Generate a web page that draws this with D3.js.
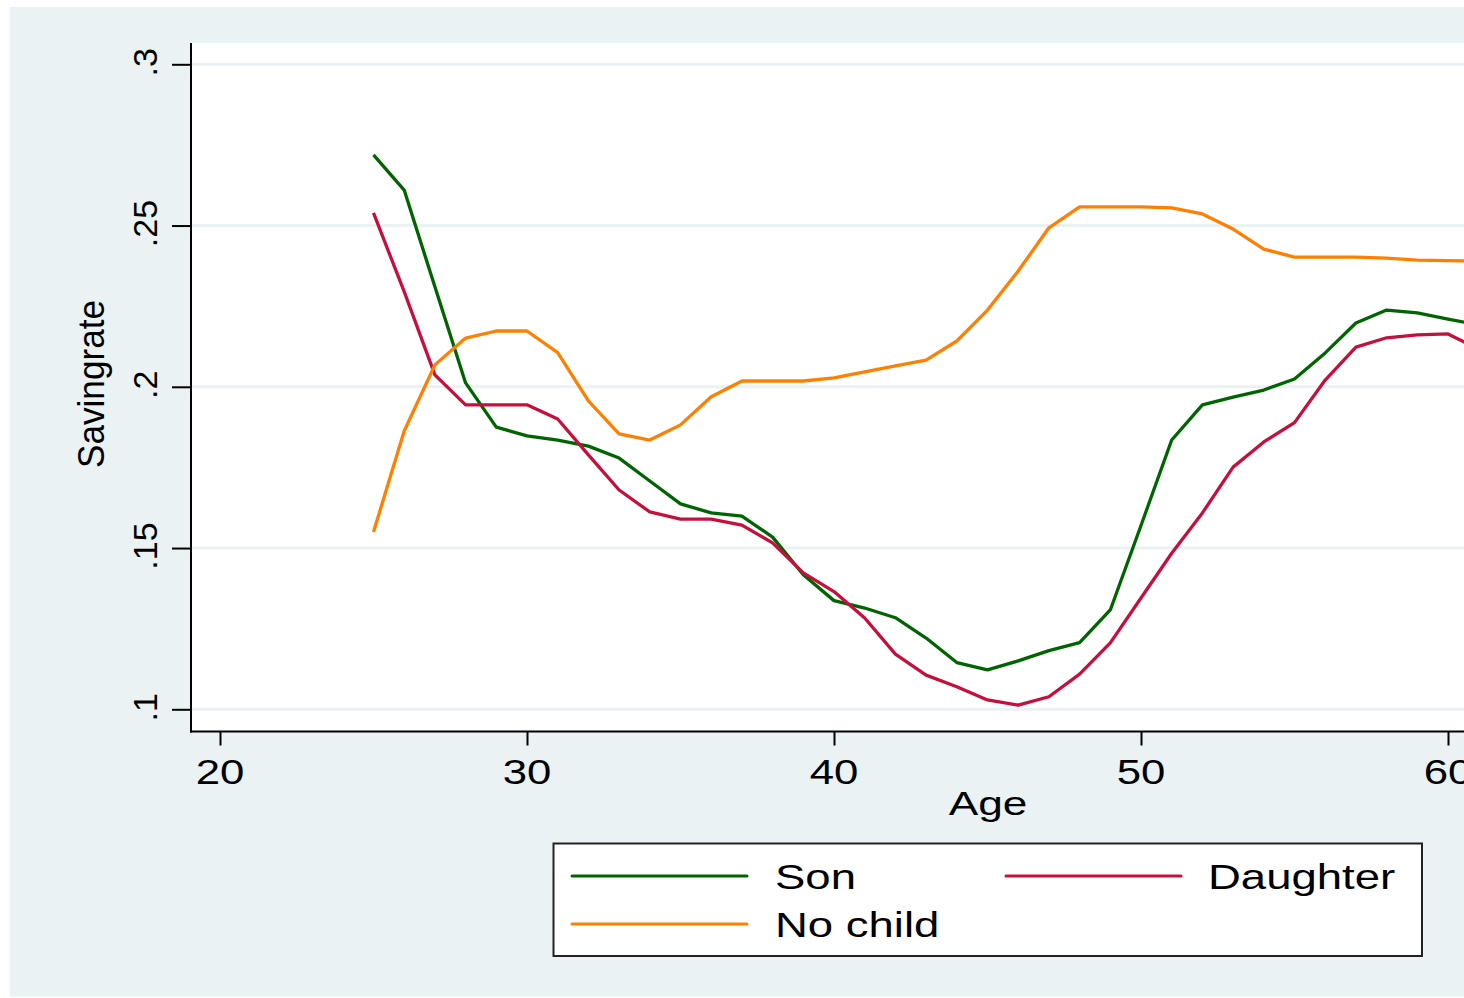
<!DOCTYPE html>
<html>
<head>
<meta charset="utf-8">
<script src="https://cdn.jsdelivr.net/npm/d3@7"></script>
<style>
  html, body { margin: 0; padding: 0; background: #ffffff; overflow: hidden; }
  svg { display: block; }
  text { font-family: "Liberation Sans", Arial, Helvetica, sans-serif; fill: #000; }
</style>
</head>
<body>
<div id="chart"></div>
<script>
// ---- data ----
const ages = [25,26,27,28,29,30,31,32,33,34,35,36,37,38,39,40,41,42,43,44,45,46,47,48,49,50,51,52,53,54,55,56,57,58,59,60,61];
const son = [0.2719,0.2610,0.2310,0.2012,0.1875,0.1848,0.1835,0.1816,0.1779,0.1708,0.1637,0.1609,0.1599,0.1534,0.1417,0.1337,0.1314,0.1284,0.1221,0.1145,0.1122,0.1150,0.1182,0.1207,0.1308,0.1570,0.1835,0.1944,0.1968,0.1990,0.2024,0.2105,0.2198,0.2238,0.2229,0.2210,0.2192];
const daughter = [0.2539,0.2295,0.2037,0.1944,0.1944,0.1944,0.1900,0.1789,0.1680,0.1612,0.1590,0.1590,0.1571,0.1516,0.1423,0.1365,0.1283,0.1171,0.1106,0.1070,0.1029,0.1013,0.1039,0.1109,0.1206,0.1345,0.1484,0.1609,0.1751,0.1829,0.1889,0.2021,0.2123,0.2152,0.2161,0.2164,0.2117];
const noChild = [0.1550,0.1863,0.2068,0.2151,0.2173,0.2173,0.2106,0.1956,0.1854,0.1835,0.1882,0.1969,0.2018,0.2018,0.2018,0.2028,0.2046,0.2065,0.2083,0.2142,0.2238,0.2359,0.2493,0.2558,0.2558,0.2558,0.2555,0.2536,0.2489,0.2427,0.2402,0.2402,0.2402,0.2399,0.2393,0.2391,0.2390];
const seriesNames = ["Son", "Daughter", "No child"];
const seriesColors = ["#006400", "#C5103D", "#FF8000"];
const xTicks = [20, 30, 40, 50, 60];
const yTicks = [0.1, 0.15, 0.2, 0.25, 0.3];
const yTickLabels = [".1", ".15", ".2", ".25", ".3"];
const xTitle = "Age";
const yTitle = "Savingrate";

// ---- layout ----
const W = 1464, H = 998;
const bgColor = "#EAF2F3";
const plot = { left: 191, top: 43, right: 1785, bottom: 731.5 };

const svg = d3.select("#chart").append("svg").attr("width", W).attr("height", H);

svg.append("rect").attr("x", 0).attr("y", 0).attr("width", W).attr("height", H).attr("fill", "#fff");
svg.append("rect").attr("x", 10).attr("y", 7).attr("width", W).attr("height", 989.5).attr("fill", bgColor);
svg.append("rect").attr("x", plot.left).attr("y", plot.top)
  .attr("width", plot.right - plot.left).attr("height", plot.bottom - plot.top).attr("fill", "#fff");

const x = d3.scaleLinear().domain([20, 60]).range([220, 1448]);
const y = d3.scaleLinear().domain([0.1, 0.3]).range([709.3, 64.3]);

// gridlines
svg.append("g").selectAll("line").data(yTicks).join("line")
  .attr("x1", plot.left + 1).attr("x2", plot.right)
  .attr("y1", d => y(d)).attr("y2", d => y(d))
  .attr("stroke", bgColor).attr("stroke-width", 3);

// lines
const seriesData = [son, daughter, noChild];
const line = d3.line().x((d, i) => x(ages[i])).y(d => y(d));
svg.append("clipPath").attr("id", "pclip").append("rect")
  .attr("x", plot.left).attr("y", plot.top).attr("width", plot.right - plot.left).attr("height", plot.bottom - plot.top);
const lg = svg.append("g").attr("clip-path", "url(#pclip)");
seriesData.forEach((s, k) => {
  lg.append("path").datum(s).attr("d", line)
    .attr("fill", "none").attr("stroke", seriesColors[k]).attr("stroke-width", 3.3)
    .attr("stroke-linejoin", "round");
});

// y axis
const yAxis = d3.axisLeft(y).tickValues(yTicks).tickSize(19).tickFormat("");
const yg = svg.append("g").attr("transform", `translate(${plot.left},0)`).call(yAxis);
yg.select(".domain").remove();
yg.selectAll(".tick line").attr("stroke", "#000").attr("stroke-width", 2);
svg.append("line").attr("x1", plot.left).attr("x2", plot.left).attr("y1", plot.top).attr("y2", plot.bottom + 1)
  .attr("stroke", "#000").attr("stroke-width", 2);
svg.append("g").selectAll("text").data(yTicks).join("text")
  .attr("transform", d => `translate(157,${y(d) - 2}) rotate(-90)`)
  .attr("text-anchor", "middle").attr("font-size", 34)
  .text((d, i) => yTickLabels[i]);

// x axis
const xAxis = d3.axisBottom(x).tickValues(xTicks).tickSize(14).tickFormat("");
const xg = svg.append("g").attr("transform", `translate(0,${plot.bottom})`).call(xAxis);
xg.select(".domain").remove();
xg.selectAll(".tick line").attr("stroke", "#000").attr("stroke-width", 2);
svg.append("line").attr("x1", plot.left - 1).attr("x2", plot.right).attr("y1", plot.bottom).attr("y2", plot.bottom)
  .attr("stroke", "#000").attr("stroke-width", 2);
svg.append("g").selectAll("text").data(xTicks).join("text")
  .attr("transform", d => `translate(${x(d)},784) scale(1.25,1)`)
  .attr("text-anchor", "middle").attr("font-size", 35)
  .text(d => d);

// axis titles
svg.append("text").attr("transform", "translate(988,815) scale(1.3,1)")
  .attr("text-anchor", "middle").attr("font-size", 34).text(xTitle);
svg.append("text").attr("transform", "translate(104,384) rotate(-90)")
  .attr("text-anchor", "middle").attr("font-size", 37)
  .attr("textLength", 168).attr("lengthAdjust", "spacingAndGlyphs").text(yTitle);

// legend
const leg = svg.append("g");
leg.append("rect").attr("x", 553.5).attr("y", 843.5).attr("width", 868.5).attr("height", 112.5)
  .attr("fill", "#fff").attr("stroke", "#222").attr("stroke-width", 2);
const legPos = [
  { lx: 572, ly: 876, tx: 775 },
  { lx: 1006, ly: 876, tx: 1208 },
  { lx: 572, ly: 924, tx: 775 }
];
seriesNames.forEach((name, k) => {
  const p = legPos[k];
  leg.append("line").attr("x1", p.lx).attr("x2", p.lx + 175).attr("y1", p.ly).attr("y2", p.ly)
    .attr("stroke", seriesColors[k]).attr("stroke-width", 3).attr("stroke-linecap", "round");
  leg.append("text").attr("transform", `translate(${p.tx},${p.ly + 13}) scale(1.3,1)`)
    .attr("font-size", 35).text(name);
});
</script>
</body>
</html>
